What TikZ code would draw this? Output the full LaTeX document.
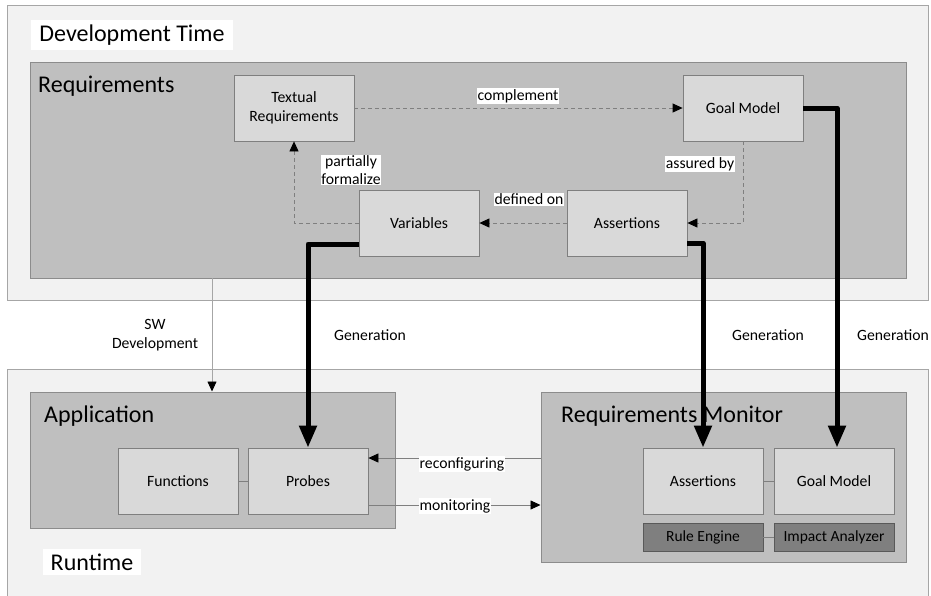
\documentclass[tikz,border=0pt]{standalone}
\usepackage{fontspec}
\setmainfont{Carlito}
\usetikzlibrary{arrows.meta}
\definecolor{outerfill}{HTML}{F2F2F2}
\definecolor{outerdraw}{HTML}{A6A6A6}
\definecolor{groupfill}{HTML}{BFBFBF}
\definecolor{groupdraw}{HTML}{8C8C8C}
\definecolor{compfill}{HTML}{D9D9D9}
\definecolor{compdraw}{HTML}{7F7F7F}
\definecolor{darkfill}{HTML}{7F7F7F}
\definecolor{darkdraw}{HTML}{595959}
\definecolor{linegray}{HTML}{7F7F7F}
\tikzset{
  outerbox/.style={draw=outerdraw, fill=outerfill, line width=1pt, minimum width=921pt, inner sep=0pt},
  groupbox/.style={draw=groupdraw, fill=groupfill, line width=1pt, inner sep=0pt},
  comp/.style={draw=compdraw, fill=compfill, line width=0.8pt, minimum width=120pt, minimum height=66pt, align=center, font=\fontsize{15.7}{18.5}\selectfont, inner sep=2pt},
  darkcomp/.style={draw=darkdraw, fill=darkfill, line width=0.8pt, minimum width=120pt, minimum height=28pt, font=\fontsize{15.5}{18}\selectfont, inner sep=1pt},
  title/.style={font=\fontsize{24}{28}\selectfont, anchor=base west, inner sep=0pt},
  whitetitle/.style={fill=white, font=\fontsize{24}{28}\selectfont, inner xsep=8pt, inner ysep=5pt},
  lbl/.style={fill=white, font=\fontsize{15.7}{18.5}\selectfont, inner sep=1pt, align=center},
  plainlbl/.style={font=\fontsize{15.7}{18.5}\selectfont, inner sep=1pt, align=center},
  dasharrow/.style={draw=linegray, line width=0.8pt, dash pattern=on 4pt off 3pt, -{Triangle[length=10pt,width=9pt,color=black]}},
  thinarrow/.style={draw=linegray, line width=0.8pt, -{Triangle[length=10pt,width=9pt,color=black]}},
  thinline/.style={draw=linegray, line width=0.8pt},
  genarrow/.style={draw=black, line width=5pt, line join=round, -{Triangle[length=22pt,width=17pt]}},
}
\begin{document}
\begin{tikzpicture}[x=1pt,y=-1pt]
\useasboundingbox (0,0) rectangle (931,595);
\clip (0,0) rectangle (931,595);
\fill[white] (0,0) rectangle (931,595);
% outer boxes
\node[outerbox, minimum height=295pt] (dev) at (467.5,152.5) {};
\node[outerbox, minimum height=240pt] (run) at (467.5,489) {};
\node[whitetitle] (devtitle) at (132,35) {Development Time};
\node[whitetitle] (runtitle) at (92,562) {Runtime};
% groups
\node[groupbox, minimum width=876pt, minimum height=216pt] (req) at (468,170) {};
\node[title] (reqtitle) at (38,92) {Requirements};
\node[groupbox, minimum width=365pt, minimum height=136pt] (app) at (212.5,460) {};
\node[title] (apptitle) at (44,422) {Application};
\node[groupbox, minimum width=365pt, minimum height=170pt] (rm) at (723.5,477) {};
\node[title] (rmtitle) at (561,422) {Requirements Monitor};
% requirement components
\node[comp] (txt) at (294,108) {Textual\\Requirements};
\node[comp] (gm) at (743,108) {Goal Model};
\node[comp] (var) at (419,223) {Variables};
\node[comp] (asr) at (627,223) {Assertions};
% runtime components
\node[comp] (fun) at (178,481) {Functions};
\node[comp] (prb) at (308,481) {Probes};
\node[comp] (rmasr) at (703,481) {Assertions};
\node[comp] (rmgm) at (834,481) {Goal Model};
\node[darkcomp] (rule) at (703,537) {Rule Engine};
\node[darkcomp] (impact) at (834,537) {Impact Analyzer};
% plain connectors
\draw[thinline] (fun) -- (prb);
\draw[thinline] (rmasr) -- (rmgm);
\draw[thinline] (rule) -- (impact);
% dashed relations
\draw[dasharrow] (txt.east) -- (gm.west);
\node[lbl] (complbl) at (518,96) {complement};
\draw[dasharrow] (gm.south) |- (asr.east);
\node[lbl] (assurelbl) at (700,164) {assured by};
\draw[dasharrow] (asr.west) -- (var.east);
\node[lbl] (deflbl) at (529,199) {defined on};
\draw[dasharrow] (var.west) -| (txt.south);
\node[lbl, inner sep=0.5pt] (partlbl) at (351,170) {partially\\formalize};
% SW development
\coordinate (swtop) at (212,278);
\draw[thinarrow, draw=outerdraw] (swtop) -- (swtop |- app.north);
\node[plainlbl] (swlbl) at (155,335) {SW\\Development};
% runtime interactions
\draw[thinarrow] (rm.west |- 0,458) -- (prb.east |- 0,458);
\node[lbl] (reclbl) at (462,464) {reconfiguring};
\draw[thinarrow] (prb.east |- 0,505) -- (rm.west |- 0,505);
\node[lbl] (monlbl) at (455,506) {monitoring};
% generation arrows
\draw[genarrow] ([yshift=-21pt]var.west) -| (prb.north);
\draw[genarrow] ([yshift=-20pt]asr.east) -| (rmasr.north);
\draw[genarrow] (gm.east) -| ([xshift=3pt]rmgm.north);
\node[plainlbl] (gen1) at (370,335) {Generation};
\node[plainlbl] (gen2) at (768,335) {Generation};
\node[plainlbl] (gen3) at (893,335) {Generation};
\end{tikzpicture}
\end{document}
